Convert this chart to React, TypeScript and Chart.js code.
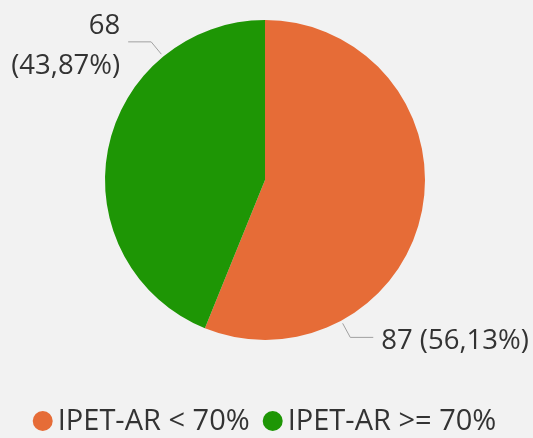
import React, { useEffect, useRef } from "react";
import { Chart, registerables } from "chart.js";

Chart.register(...registerables);

const categories = ["IPET-AR < 70%", "IPET-AR >= 70%"];
const values = [87, 68];
const colors = ["#E66C37", "#1E9605"];

const W = 533;
const H = 438;
const FONT = "27.5px 'Open Sans', sans-serif";
const LEGEND_FONT = "29px 'Open Sans', sans-serif";
const TEXT_COLOR = "#333333";
const BG = "#F2F2F2";

const total = values.reduce((a, b) => a + b, 0);
const percentLabels = values.map(
  (v) => (v / total * 100).toFixed(2).replace(".", ",") + "%"
);

const labelPlugin = {
  id: "pbiLabels",
  afterDraw(chart: any) {
    const ctx = chart.ctx;
    const meta = chart.getDatasetMeta(0);
    ctx.save();
    ctx.font = FONT;
    ctx.fillStyle = TEXT_COLOR;
    meta.data.forEach((arc: any, i: number) => {
      const { x, y, startAngle, endAngle, outerRadius } = arc.getProps(
        ["x", "y", "startAngle", "endAngle", "outerRadius"],
        true
      );
      const a = startAngle + 0.75 * (endAngle - startAngle);
      const c = Math.cos(a);
      const s = Math.sin(a);
      const p0x = x + (outerRadius + 3) * c;
      const p0y = y + (outerRadius + 3) * s;
      const p1x = x + (outerRadius + 19) * c;
      const p1y = y + (outerRadius + 19) * s;
      const right = c >= 0;
      const p2x = p1x + (right ? 23 : -23);
      ctx.strokeStyle = "#A0A0A0";
      ctx.lineWidth = 1;
      ctx.beginPath();
      ctx.moveTo(p0x, p0y);
      ctx.lineTo(p1x, p1y);
      ctx.lineTo(p2x, p1y);
      ctx.stroke();
      ctx.fillStyle = TEXT_COLOR;
      const full = `${values[i]} (${percentLabels[i]})`;
      const tx = p2x + (right ? 8 : -8);
      const avail = right ? W - tx : tx;
      ctx.textAlign = right ? "left" : "right";
      ctx.textBaseline = "middle";
      if (ctx.measureText(full).width <= avail) {
        ctx.fillText(full, tx, p1y + 4);
      } else {
        const lh = 40;
        const cy = p1y + 4;
        ctx.fillText(String(values[i]), tx, cy - lh / 2);
        ctx.fillText(`(${percentLabels[i]})`, tx, cy + lh / 2);
      }
    });

    // legend
    ctx.font = LEGEND_FONT;
    const dia = 20;
    const gapIcon = 5;
    const gapItem = 13;
    const widths = categories.map((t) => ctx.measureText(t).width);
    const totalW =
      widths.reduce((acc, w) => acc + dia + gapIcon + w, 0) +
      gapItem * (categories.length - 1);
    let lx = (W - totalW) / 2 - 2;
    const ly = 421;
    ctx.textAlign = "left";
    ctx.textBaseline = "middle";
    categories.forEach((t, i) => {
      ctx.fillStyle = colors[i];
      ctx.beginPath();
      ctx.arc(lx + dia / 2, ly, dia / 2, 0, Math.PI * 2);
      ctx.fill();
      ctx.fillStyle = TEXT_COLOR;
      ctx.fillText(t, lx + dia + gapIcon, ly + 1);
      lx += dia + gapIcon + widths[i] + gapItem;
    });
    ctx.restore();
  },
};

export default function App() {
  const ref = useRef<HTMLCanvasElement | null>(null);
  useEffect(() => {
    if (!ref.current) return;
    const chart = new Chart(ref.current, {
      type: "pie",
      data: {
        labels: categories,
        datasets: [
          {
            data: values,
            backgroundColor: colors,
            borderWidth: 0,
          },
        ],
      },
      options: {
        responsive: false,
        animation: false,
        layout: { padding: { left: 105, right: 108, top: 20, bottom: 98 } },
        plugins: {
          legend: { display: false },
          tooltip: { enabled: false },
        },
      },
      plugins: [labelPlugin],
    });
    return () => chart.destroy();
  }, []);
  return (
    <div
      style={{
        position: "absolute",
        left: 0,
        top: 0,
        width: W,
        height: H,
        background: BG,
      }}
    >
      <canvas ref={ref} width={W} height={H} style={{ width: W, height: H }} />
    </div>
  );
}
